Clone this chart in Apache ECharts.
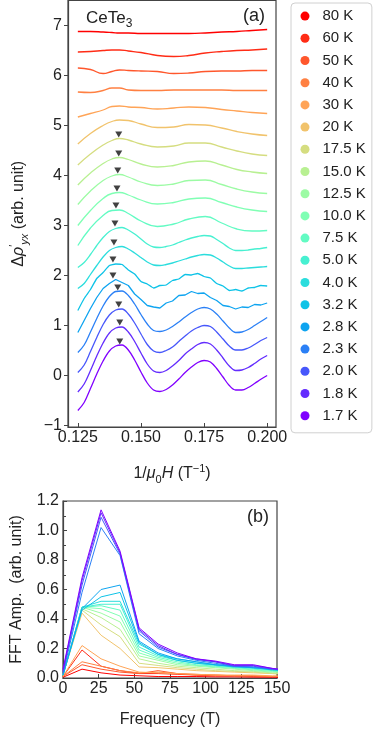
<!DOCTYPE html>
<html>
<head>
<meta charset="utf-8">
<script src="https://cdn.jsdelivr.net/npm/echarts@6.0.0/dist/echarts.min.js"></script>
<style>
html, body { margin: 0; padding: 0; background: #fff; }
#chart { width: 382px; height: 733px; }
</style>
</head>
<body>
<div id="chart"></div>
<script>
// temperatures, top curve first (legend order)
const temps = ['80 K', '60 K', '50 K', '40 K', '30 K', '20 K', '17.5 K', '15.0 K', '12.5 K', '10.0 K',
    '7.5 K', '5.0 K', '4.0 K', '3.2 K', '2.8 K', '2.3 K', '2.0 K', '1.8 K', '1.7 K'];
const colors = ['#ff0000', '#ff2c16', '#ff572c', '#ff8042', '#ffa457', '#f1c36c', '#d5dd80', '#b8f092', '#9cfba4', '#80ffb4',
    '#63fbc3', '#47f0d1', '#2bdddd', '#0ec3e7', '#0ea4f0', '#2b80f6', '#4757fb', '#632cfe', '#8000ff'];

// panel (a): 1/mu0H positions
const invField = [0.125, 0.130, 0.135, 0.1385, 0.1415, 0.145, 0.150, 0.1565, 0.163, 0.169, 0.1755, 0.182, 0.188, 0.194, 0.200];
const invFieldFine = [0.125, 0.1275, 0.13, 0.1325, 0.135, 0.1375, 0.14, 0.1425, 0.145, 0.1475, 0.15, 0.1525, 0.155, 0.1575,
    0.16, 0.1625, 0.165, 0.1675, 0.17, 0.1725, 0.175, 0.1775, 0.18, 0.1825, 0.185, 0.1875, 0.19, 0.1925, 0.195, 0.1975, 0.2];

// weak oscillations (coarse grid)
const rho_80K = [6.88, 6.88, 6.87, 6.86, 6.85, 6.85, 6.84, 6.84, 6.84, 6.84, 6.85, 6.87, 6.88, 6.90, 6.92];
const rho_60K = [6.47, 6.48, 6.50, 6.51, 6.51, 6.49, 6.46, 6.40, 6.38, 6.40, 6.45, 6.48, 6.50, 6.51, 6.53];
const rho_50K = [6.15, 6.12, 6.04, 6.08, 6.11, 6.10, 6.09, 6.08, 6.04, 6.05, 6.08, 6.09, 6.09, 6.10, 6.10];
const rho_40K = [5.67, 5.66, 5.70, 5.75, 5.75, 5.71, 5.70, 5.70, 5.71, 5.71, 5.71, 5.71, 5.70, 5.70, 5.70];
const rho_30K = [5.17, 5.24, 5.31, 5.38, 5.39, 5.37, 5.36, 5.33, 5.35, 5.37, 5.36, 5.32, 5.29, 5.26, 5.24];
const rho_20K = [4.63, 4.84, 5.00, 5.08, 5.11, 5.10, 5.03, 4.96, 4.97, 5.02, 5.01, 4.95, 4.88, 4.83, 4.80];
const rho_17K5 = [4.21, 4.43, 4.61, 4.70, 4.74, 4.71, 4.63, 4.57, 4.59, 4.65, 4.65, 4.57, 4.49, 4.43, 4.40];
const rho_15K = [3.81, 4.05, 4.24, 4.33, 4.36, 4.32, 4.23, 4.17, 4.20, 4.27, 4.29, 4.21, 4.12, 4.07, 4.04];
const rho_12K5 = [3.42, 3.69, 3.90, 3.99, 4.02, 3.97, 3.87, 3.80, 3.83, 3.90, 3.91, 3.82, 3.73, 3.67, 3.64];
const rho_10K = [3.00, 3.30, 3.54, 3.64, 3.66, 3.61, 3.51, 3.43, 3.46, 3.53, 3.55, 3.46, 3.37, 3.31, 3.28];
const rho_7K5 = [2.60, 2.95, 3.20, 3.30, 3.31, 3.24, 3.09, 2.98, 3.03, 3.13, 3.18, 3.05, 2.93, 2.89, 2.90];
// strong oscillations (fine grid)
const rho_5K = [2.16, 2.26, 2.42, 2.60, 2.76, 2.88, 2.94, 2.96, 2.91, 2.83, 2.73, 2.63, 2.57, 2.56, 2.58, 2.61,
    2.66, 2.71, 2.75, 2.78, 2.80, 2.79, 2.72, 2.64, 2.55, 2.50, 2.50, 2.51, 2.53, 2.54, 2.56];
const rho_4K = [1.74, 1.84, 2.02, 2.20, 2.37, 2.50, 2.56, 2.58, 2.53, 2.45, 2.36, 2.27, 2.21, 2.20, 2.22, 2.25,
    2.29, 2.33, 2.37, 2.40, 2.42, 2.41, 2.35, 2.27, 2.19, 2.14, 2.14, 2.15, 2.16, 2.17, 2.18];
const rho_3K2 = [1.30, 1.54, 1.72, 1.94, 2.06, 2.20, 2.23, 2.22, 2.11, 2.03, 1.88, 1.83, 1.75, 1.80, 1.81, 1.90,
    1.93, 2.02, 2.01, 2.04, 1.98, 1.95, 1.84, 1.79, 1.70, 1.72, 1.69, 1.75, 1.76, 1.80, 1.79];
const rho_2K8 = [0.86, 1.10, 1.34, 1.56, 1.74, 1.84, 1.92, 1.86, 1.80, 1.63, 1.52, 1.40, 1.37, 1.35, 1.45, 1.49,
    1.60, 1.61, 1.68, 1.64, 1.65, 1.56, 1.50, 1.40, 1.38, 1.33, 1.37, 1.36, 1.42, 1.41, 1.45];
const rho_2K3 = [0.46, 0.61, 0.87, 1.14, 1.39, 1.58, 1.68, 1.69, 1.60, 1.43, 1.22, 1.03, 0.90, 0.88, 0.91, 0.98,
    1.07, 1.17, 1.26, 1.33, 1.36, 1.33, 1.23, 1.09, 0.95, 0.86, 0.87, 0.92, 1.00, 1.08, 1.16];
const rho_2K = [0.06, 0.21, 0.48, 0.76, 1.02, 1.21, 1.31, 1.33, 1.23, 1.05, 0.83, 0.62, 0.49, 0.46, 0.50, 0.57,
    0.68, 0.79, 0.89, 0.96, 1.00, 0.98, 0.87, 0.73, 0.59, 0.51, 0.51, 0.55, 0.62, 0.70, 0.76];
const rho_1K8 = [-0.33, -0.17, 0.10, 0.39, 0.65, 0.85, 0.95, 0.97, 0.87, 0.68, 0.45, 0.23, 0.09, 0.06, 0.10, 0.19,
    0.30, 0.43, 0.53, 0.62, 0.66, 0.63, 0.51, 0.35, 0.19, 0.10, 0.11, 0.16, 0.24, 0.33, 0.40];
const rho_1K7 = [-0.70, -0.54, -0.26, 0.03, 0.29, 0.49, 0.59, 0.61, 0.51, 0.31, 0.07, -0.15, -0.29, -0.32, -0.28, -0.19,
    -0.07, 0.06, 0.17, 0.26, 0.30, 0.27, 0.14, -0.03, -0.20, -0.29, -0.29, -0.24, -0.16, -0.075, 0.00];

// peak markers (black triangles), 17.5 K down to 1.7 K
const markX = [0.1412, 0.1412, 0.1408, 0.1405, 0.1401, 0.1397, 0.1393, 0.1389, 0.1389, 0.1408, 0.1412, 0.1416, 0.1416];
const markY = [4.82, 4.44, 4.10, 3.74, 3.40, 3.04, 2.66, 2.32, 2.00, 1.76, 1.42, 1.06, 0.68];

// panel (b): FFT
const freq = [0, 13.33, 26.67, 40, 53.33, 66.67, 80, 93.33, 106.67, 120, 133.33, 146.67, 160];
const fft_80K = [0.005, 0.06, 0.035, 0.02, 0.015, 0.01, 0.01, 0.01, 0.008, 0.008, 0.006, 0.005, 0.005];
const fft_60K = [0.01, 0.19, 0.08, 0.05, 0.03, 0.03, 0.025, 0.02, 0.015, 0.015, 0.01, 0.01, 0.01];
const fft_50K = [0.01, 0.09, 0.06, 0.04, 0.03, 0.05, 0.03, 0.02, 0.02, 0.015, 0.015, 0.01, 0.01];
const fft_40K = [0.01, 0.11, 0.08, 0.05, 0.035, 0.04, 0.03, 0.025, 0.02, 0.015, 0.015, 0.01, 0.01];
const fft_30K = [0.01, 0.22, 0.13, 0.08, 0.04, 0.035, 0.03, 0.025, 0.02, 0.02, 0.02, 0.015, 0.015];
const fft_20K = [0.02, 0.44, 0.29, 0.20, 0.075, 0.07, 0.06, 0.05, 0.045, 0.04, 0.035, 0.03, 0.025];
const fft_17K5 = [0.02, 0.46, 0.36, 0.28, 0.10, 0.085, 0.07, 0.06, 0.05, 0.045, 0.04, 0.03, 0.025];
const fft_15K = [0.02, 0.47, 0.41, 0.33, 0.13, 0.10, 0.08, 0.07, 0.06, 0.05, 0.045, 0.035, 0.03];
const fft_12K5 = [0.02, 0.48, 0.44, 0.38, 0.15, 0.12, 0.09, 0.08, 0.07, 0.06, 0.05, 0.04, 0.035];
const fft_10K = [0.02, 0.48, 0.47, 0.42, 0.17, 0.13, 0.10, 0.085, 0.075, 0.065, 0.055, 0.045, 0.04];
const fft_7K5 = [0.02, 0.48, 0.49, 0.46, 0.19, 0.14, 0.11, 0.09, 0.08, 0.07, 0.06, 0.05, 0.04];
const fft_5K = [0.02, 0.48, 0.50, 0.50, 0.21, 0.15, 0.12, 0.10, 0.085, 0.075, 0.065, 0.055, 0.045];
const fft_4K = [0.02, 0.48, 0.52, 0.52, 0.23, 0.16, 0.13, 0.11, 0.09, 0.08, 0.07, 0.06, 0.05];
const fft_3K2 = [0.02, 0.46, 0.55, 0.58, 0.24, 0.16, 0.12, 0.10, 0.09, 0.075, 0.07, 0.055, 0.045];
const fft_2K8 = [0.02, 0.47, 0.60, 0.63, 0.25, 0.17, 0.13, 0.11, 0.09, 0.08, 0.07, 0.06, 0.05];
const fft_2K3 = [0.03, 0.58, 1.02, 0.83, 0.30, 0.20, 0.15, 0.12, 0.10, 0.08, 0.075, 0.06, 0.05];
const fft_2K = [0.04, 0.63, 1.09, 0.84, 0.32, 0.21, 0.16, 0.125, 0.11, 0.08, 0.08, 0.06, 0.05];
const fft_1K8 = [0.05, 0.66, 1.12, 0.85, 0.33, 0.22, 0.16, 0.13, 0.11, 0.085, 0.085, 0.065, 0.05];
const fft_1K7 = [0.06, 0.68, 1.14, 0.86, 0.34, 0.23, 0.17, 0.13, 0.115, 0.09, 0.09, 0.065, 0.05];

// tick values
const xTicksA = [0.125, 0.150, 0.175, 0.200];
const yTicksA = [-1, 0, 1, 2, 3, 4, 5, 6, 7];

const curvesA = [rho_80K, rho_60K, rho_50K, rho_40K, rho_30K, rho_20K, rho_17K5, rho_15K, rho_12K5, rho_10K,
    rho_7K5, rho_5K, rho_4K, rho_3K2, rho_2K8, rho_2K3, rho_2K, rho_1K8, rho_1K7];
const curvesB = [fft_80K, fft_60K, fft_50K, fft_40K, fft_30K, fft_20K, fft_17K5, fft_15K, fft_12K5, fft_10K,
    fft_7K5, fft_5K, fft_4K, fft_3K2, fft_2K8, fft_2K3, fft_2K, fft_1K8, fft_1K7];

const FONT = '"Liberation Sans", Arial, sans-serif';
const AX = '#444';
const zip = (xs, ys) => xs.map((x, i) => [x, ys[i]]);

const chart = echarts.init(document.getElementById('chart'));

const series = [];
temps.forEach((t, i) => {
    const fine = curvesA[i].length === invFieldFine.length;
    let smooth = 0.5;
    if (fine) smooth = 0.35;
    if (t === '3.2 K') smooth = 0.15;
    if (t === '2.8 K') smooth = false;
    series.push({
        name: t,
        type: 'line',
        xAxisIndex: 0,
        yAxisIndex: 0,
        showSymbol: false,
        smooth: smooth,
        lineStyle: { color: colors[i], width: 1.3 },
        itemStyle: { color: colors[i] },
        data: zip(fine ? invFieldFine : invField, curvesA[i])
    });
    series.push({
        name: t,
        type: 'line',
        xAxisIndex: 1,
        yAxisIndex: 1,
        showSymbol: false,
        lineStyle: { color: colors[i], width: 1 },
        itemStyle: { color: colors[i] },
        data: zip(freq, curvesB[i])
    });
});
series.push({
    type: 'scatter',
    xAxisIndex: 0,
    yAxisIndex: 0,
    symbol: 'triangle',
    symbolRotate: 180,
    symbolSize: [7, 6],
    itemStyle: { color: '#111' },
    z: 5,
    silent: true,
    data: zip(markX, markY)
});

const labelStyle = { fontSize: 16, color: '#222', fontFamily: FONT };
const nameRich = {
    t: { fontSize: 16, lineHeight: 22, fontFamily: FONT, color: '#222' },
    i: { fontSize: 16, lineHeight: 22, fontStyle: 'italic', fontFamily: FONT, color: '#222' },
    sub: { fontSize: 11, lineHeight: 11, verticalAlign: 'bottom', fontFamily: FONT, color: '#222' },
    subi: { fontSize: 11, lineHeight: 11, verticalAlign: 'bottom', fontStyle: 'italic', fontFamily: FONT, color: '#222' },
    sup: { fontSize: 11, lineHeight: 11, verticalAlign: 'top', fontFamily: FONT, color: '#222' }
};

const option = {
    animation: false,
    backgroundColor: '#fff',
    grid: [
        { left: 63, top: 0.5, width: 213, height: 426.5, show: true, borderColor: AX, borderWidth: 1.2 },
        { left: 63, top: 501, width: 214, height: 177, show: true, borderColor: AX, borderWidth: 1.2 }
    ],
    legend: {
        orient: 'vertical',
        left: 291,
        top: 3,
        data: temps,
        icon: 'circle',
        itemWidth: 25,
        itemHeight: 9,
        itemGap: 0,
        padding: [2, 6, 6, 9.5],
        borderColor: '#d0d0d0',
        borderWidth: 1,
        borderRadius: 4,
        backgroundColor: '#fff',
        textStyle: { fontSize: 15, lineHeight: 22.2, color: '#222', fontFamily: FONT }
    },
    xAxis: [
        {
            type: 'value', gridIndex: 0, min: 0.1211, max: 0.2035,
            axisLine: { show: true, onZero: false, lineStyle: { color: AX, width: 1.2 } },
            axisTick: { show: true, inside: true, length: 4, customValues: xTicksA, lineStyle: { color: AX } },
            axisLabel: Object.assign({ customValues: xTicksA, margin: 3, formatter: v => v.toFixed(3) }, labelStyle),
            splitLine: { show: false },
            name: '{t|1/}{i|μ}{sub|0}{i|H}{t| (T}{sup|−1}{t|)}',
            nameLocation: 'middle',
            nameGap: 36,
            nameTextStyle: { rich: nameRich }
        },
        {
            type: 'value', gridIndex: 1, min: 0, max: 150, interval: 25,
            axisLine: { show: true, onZero: false, lineStyle: { color: AX, width: 1.2 } },
            axisTick: { show: true, inside: true, length: 4, lineStyle: { color: AX } },
            axisLabel: Object.assign({ margin: 3 }, labelStyle),
            splitLine: { show: false },
            name: 'Frequency (T)',
            nameLocation: 'middle',
            nameGap: 34,
            nameTextStyle: { fontSize: 16, color: '#222', fontFamily: FONT }
        }
    ],
    yAxis: [
        {
            type: 'value', gridIndex: 0, min: -1.03, max: 7.5,
            axisLine: { show: true, onZero: false, lineStyle: { color: AX, width: 1.2 } },
            axisTick: { show: true, inside: false, length: 4, customValues: yTicksA, lineStyle: { color: AX } },
            axisLabel: Object.assign({
                customValues: yTicksA, margin: 6,
                formatter: v => (v < 0 ? '\u2212' + Math.abs(v) : String(v))
            }, labelStyle),
            splitLine: { show: false },
            name: '{t|Δ}{i|ρ}{sup|′}{subi|yx}{t| (arb. unit)}',
            nameLocation: 'middle',
            nameRotate: 90,
            nameGap: 38,
            nameTextStyle: { rich: nameRich }
        },
        {
            type: 'value', gridIndex: 1, min: 0, max: 1.2, interval: 0.2,
            axisLine: { show: true, onZero: false, lineStyle: { color: AX, width: 1.2 } },
            axisTick: { show: true, inside: true, length: 4, lineStyle: { color: AX } },
            minorTick: { show: true, splitNumber: 2, length: 3, lineStyle: { color: AX } },
            axisLabel: Object.assign({ margin: 4, formatter: v => v.toFixed(1) }, labelStyle),
            splitLine: { show: false },
            name: 'FFT Amp.  (arb. unit)',
            nameLocation: 'middle',
            nameRotate: 90,
            nameGap: 38,
            nameTextStyle: { fontSize: 16, color: '#222', fontFamily: FONT }
        }
    ],
    graphic: [
        {
            type: 'text', left: 86, top: 10,
            style: {
                text: '{a|CeTe}{b|3}',
                rich: {
                    a: { fontSize: 17, lineHeight: 22, fontFamily: FONT, fill: '#222' },
                    b: { fontSize: 12, lineHeight: 12, verticalAlign: 'bottom', fontFamily: FONT, fill: '#222' }
                }
            }
        },
        { type: 'text', left: 243, top: 7, style: { text: '(a)', fontSize: 18, fontFamily: FONT, fill: '#222' } },
        { type: 'text', left: 247, top: 508, style: { text: '(b)', fontSize: 18, fontFamily: FONT, fill: '#222' } }
    ],
    series: series
};

chart.setOption(option);
</script>
</body>
</html>
